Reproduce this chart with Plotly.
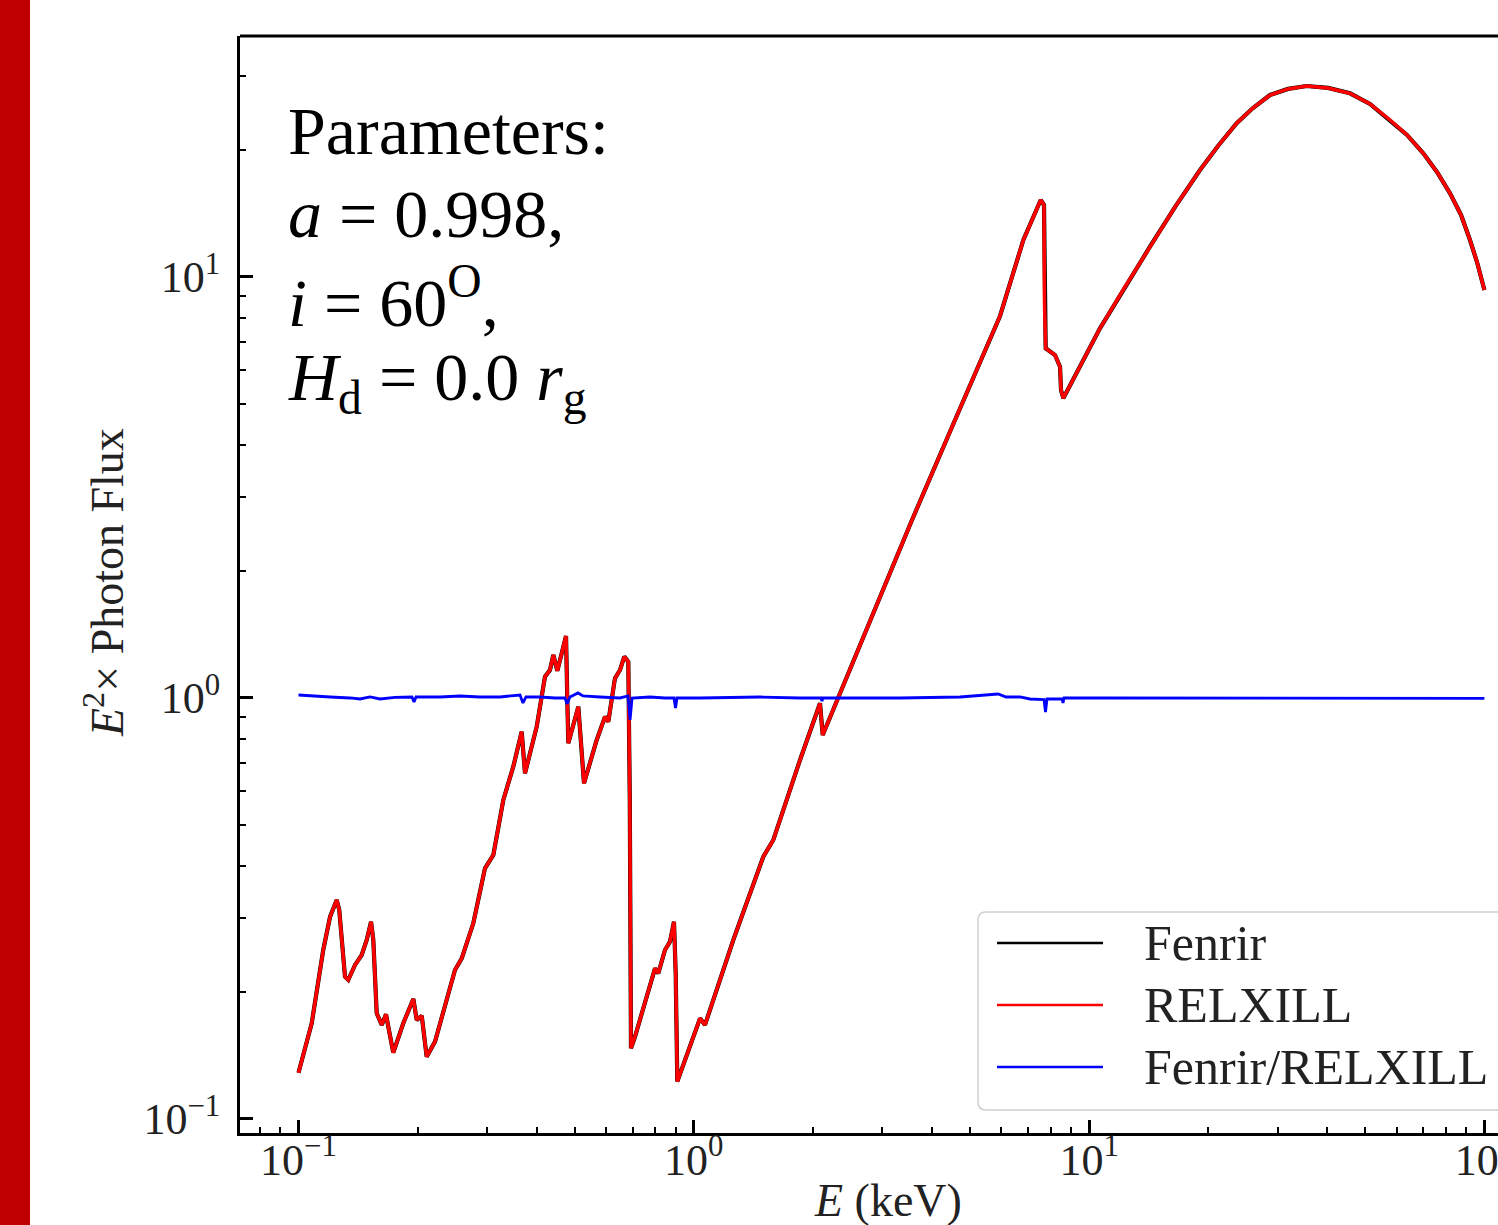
import plotly.graph_objects as go

# ---------------- data ----------------
relxill_E = [0.1000, 0.1080, 0.1155, 0.1202, 0.1249, 0.1268, 0.1311, 0.1336, 0.1390, 0.1445,
             0.1488, 0.1526, 0.1546, 0.1577, 0.1624, 0.1665, 0.1687, 0.1737, 0.1841, 0.1952,
             0.1991, 0.2050, 0.2110, 0.2215, 0.2488, 0.2588, 0.2768, 0.2963, 0.3111, 0.3297,
             0.3494, 0.3669, 0.3741, 0.4005, 0.4203, 0.4327, 0.4412, 0.4516, 0.4633, 0.4751,
             0.4786, 0.4814, 0.5103, 0.5275, 0.5680, 0.5962, 0.6077, 0.6318, 0.6506, 0.6671,
             0.6828, 0.6888, 0.6936, 0.7098, 0.7978, 0.8130, 0.8455, 0.8705, 0.8910, 0.8999,
             0.9084, 1.0368, 1.0674, 1.2586, 1.4991, 1.5889, 1.8565, 2.0858, 2.1190, 2.3440,
             2.7911, 3.5645, 4.5795, 5.9529, 6.8186, 7.5436, 7.6893, 7.7123, 7.7658, 8.1983,
             8.4418, 8.4906, 8.6048, 10.655, 12.32, 14.256, 16.49, 19.081, 21.19, 23.623,
             25.97, 28.689, 31.86, 35.515, 40.22, 45.709, 51.35, 57.70, 63.71, 70.05,
             75.86, 81.85, 87.27, 91.95, 95.78, 100.0]
relxill_flux = [0.1288, 0.1688, 0.2520, 0.3023, 0.3313, 0.3136, 0.2178, 0.2139, 0.2322, 0.2452,
                0.2662, 0.2941, 0.2662, 0.1783, 0.1673, 0.1773, 0.1657, 0.1437, 0.1688, 0.1928,
                0.1718, 0.1759, 0.1406, 0.1527, 0.2259, 0.2408, 0.2916, 0.3939, 0.4238, 0.5726,
                0.6868, 0.8318, 0.6626, 0.8547, 1.1234, 1.1654, 1.2652, 1.1609, 1.2770, 1.4037,
                0.9891, 0.7808, 0.9535, 0.6272, 0.7947, 0.9029, 0.8783, 1.1137, 1.1654, 1.2536,
                1.2196, 0.5726, 0.1472, 0.1568, 0.2280, 0.2218, 0.2520, 0.2637, 0.2941, 0.2218,
                0.1227, 0.1734, 0.1673, 0.2662, 0.4198, 0.4600, 0.7124, 0.9714, 0.8168, 1.0261,
                1.5318, 2.6474, 4.5739, 8.0798, 12.242, 15.236, 14.825, 8.6774, 6.7700, 6.5267,
                6.1223, 5.3897, 5.1504, 7.5527, 9.468, 11.803, 14.66, 17.955, 20.47, 23.181,
                25.20, 27.055, 27.97, 28.423, 28.12, 27.307, 25.76, 23.600, 21.75, 19.670,
                17.76, 15.804, 14.04, 12.242, 10.85, 9.314]

# Fenrir lies on top of RELXILL everywhere at this scale
fenrir_E = relxill_E
fenrir_flux = relxill_flux

ratio_E = [0.1000, 0.1069, 0.1202, 0.1350, 0.1431, 0.1517, 0.1608, 0.1754, 0.1937, 0.1960,
           0.1983, 0.2280, 0.2562, 0.2877, 0.3232, 0.3633, 0.3697, 0.3762, 0.4082, 0.4456,
           0.4722, 0.4777, 0.4861, 0.5094, 0.5245, 0.5790, 0.6506, 0.6818, 0.6898, 0.6980,
           0.7745, 0.8455, 0.8910, 0.8989, 0.9068, 1.0368, 1.4707, 1.8565, 2.0977, 2.1100,
           2.1226, 3.3236, 4.7148, 5.8848, 6.1652, 6.6865, 7.0872, 7.6893, 7.7568, 7.8250,
           8.5418, 8.5911, 8.6407, 10.655, 34.167, 100.0]
ratio = [1.0165, 1.011, 1.0055, 1.0, 0.9945, 1.0055, 0.9945, 1.003, 1.0055, 0.9784,
         1.0055, 1.0055, 1.011, 1.0055, 1.0055, 1.0165, 0.973, 1.0055, 1.0055, 1.0,
         1.0, 0.968, 1.0055, 1.028, 1.011, 1.0055, 1.0, 1.011, 0.8867, 1.0,
         1.0055, 1.0, 1.0, 0.9468, 1.0, 1.0, 1.0055, 1.0, 1.0, 0.9837,
         1.0, 1.0, 1.0055, 1.022, 1.0055, 1.0055, 0.9945, 0.9918, 0.9263, 0.9945,
         0.9945, 0.973, 1.0, 1.0, 1.0, 0.9973]

series_names = ["Fenrir", "RELXILL", "Fenrir/RELXILL"]
series_colors = ["#000000", "#ff0000", "#0000ff"]

major_vals = [0.1, 1, 10, 100]
major_text = ["10<sup>\u22121</sup>", "10<sup>0</sup>", "10<sup>1</sup>", "10<sup>2</sup>"]
y_major_vals = [0.1, 1, 10]
y_major_text = ["10<sup>\u22121</sup>", "10<sup>0</sup>", "10<sup>1</sup>"]

param_lines = ["Parameters:",
               "<i>a</i> = 0.998,",
               "<i>i</i> = 60<sup>O</sup>,",
               "<i>H</i><sub>d</sub> = 0.0 <i>r</i><sub>g</sub>"]

# ---------------- figure ----------------
W, H = 1498, 1225
L, T, B = 240, 36, 92
PW, PH = W - L, H - T - B


def px(x):
    return (x - L) / PW


def py(y):
    return (H - B - y) / PH


FONT = "Liberation Serif"

fig = go.Figure()
fig.add_trace(go.Scatter(x=fenrir_E, y=fenrir_flux, mode="lines", name=series_names[0],
                         line=dict(color=series_colors[0], width=4.2), showlegend=False))
fig.add_trace(go.Scatter(x=relxill_E, y=relxill_flux, mode="lines", name=series_names[1],
                         line=dict(color=series_colors[1], width=3.5), showlegend=False))
fig.add_trace(go.Scatter(x=ratio_E, y=ratio, mode="lines", name=series_names[2],
                         line=dict(color=series_colors[2], width=2.8), showlegend=False))

x_minor = [k * 10 ** d for d in (-2, -1, 0, 1) for k in range(2, 10)]
y_minor = [k * 10 ** d for d in (-2, -1, 0, 1) for k in range(2, 10)]

fig.update_xaxes(type="log", range=[-1.148, 2.0344], showline=True, linecolor="black",
                 linewidth=3, mirror=False, ticks="inside", ticklen=13, tickwidth=2.5,
                 tickcolor="black", tickmode="array", tickvals=major_vals, ticktext=major_text,
                 tickfont=dict(family=FONT, size=44, color="#222"), showgrid=False,
                 zeroline=False, automargin=False, ticklabelstandoff=-14,
                 ticklabeloverflow="allow",
                 minor=dict(tickmode="array", tickvals=x_minor, ticks="inside", ticklen=6,
                            tickwidth=1.5, tickcolor="black", showgrid=False))
fig.update_yaxes(type="log", range=[-1.0333, 1.5724], showline=True, linecolor="black",
                 linewidth=3, mirror=False, ticks="inside", ticklen=13, tickwidth=2.5,
                 tickcolor="black", tickmode="array", tickvals=y_major_vals, ticktext=y_major_text,
                 tickfont=dict(family=FONT, size=44, color="#222"), showgrid=False,
                 zeroline=False, automargin=False, ticklabelstandoff=8,
                 ticklabeloverflow="allow",
                 minor=dict(tickmode="array", tickvals=y_minor, ticks="inside", ticklen=6,
                            tickwidth=1.5, tickcolor="black", showgrid=False))

shapes = []
# red side bar
shapes.append(dict(type="rect", xref="paper", yref="paper", x0=px(0), x1=px(30),
                   y0=py(H), y1=py(0), fillcolor="#c00000", line=dict(width=0)))
# top frame line
shapes.append(dict(type="line", xref="paper", yref="paper", x0=0, x1=1.01, y0=1, y1=1,
                   line=dict(color="black", width=3)))

# legend box (rounded corners)
lx0, lx1, ly0, ly1 = px(978), px(1520), py(1110), py(912)
rx, ry = 8 / PW, 8 / PH
path = (f"M{lx0+rx},{ly1} L{lx1},{ly1} L{lx1},{ly0} L{lx0+rx},{ly0} "
        f"Q{lx0},{ly0} {lx0},{ly0+ry} L{lx0},{ly1-ry} Q{lx0},{ly1} {lx0+rx},{ly1} Z")
shapes.append(dict(type="path", xref="paper", yref="paper", path=path,
                   fillcolor="rgba(255,255,255,0.85)", line=dict(color="#d0d0d0", width=1.5)))

leg_y = [943, 1005, 1067]
annotations = []
for name, col, yy in zip(series_names, series_colors, leg_y):
    shapes.append(dict(type="line", xref="paper", yref="paper", x0=px(997), x1=px(1103),
                       y0=py(yy), y1=py(yy), line=dict(color=col, width=2.5)))
    annotations.append(dict(xref="paper", yref="paper", x=px(1142), y=py(yy), text=name,
                            showarrow=False, xanchor="left", yanchor="middle",
                            font=dict(family=FONT, size=50, color="#222")))

# parameter text
param_y = [131, 214, 298, 381]
for txt, yy in zip(param_lines, param_y):
    annotations.append(dict(xref="paper", yref="paper", x=px(286), y=py(yy), text=txt,
                            showarrow=False, xanchor="left", yanchor="middle",
                            font=dict(family=FONT, size=68, color="black")))

# axis titles
annotations.append(dict(xref="paper", yref="paper", x=px(888), y=py(1200),
                        text="<i>E</i> (keV)", showarrow=False, xanchor="center",
                        yanchor="middle", font=dict(family=FONT, size=46, color="#222")))
annotations.append(dict(xref="paper", yref="paper", x=px(104), y=py(583),
                        text="<i>E</i><sup>2</sup>\u00d7 Photon Flux", showarrow=False,
                        textangle=-90, xanchor="center", yanchor="middle",
                        font=dict(family=FONT, size=46, color="#222")))

fig.update_layout(width=W, height=H, margin=dict(l=L, r=0, t=T, b=B, autoexpand=False),
                  paper_bgcolor="white", plot_bgcolor="white", shapes=shapes,
                  annotations=annotations, showlegend=False)

fig.write_html("out.html",
               config={"displayModeBar": False},
               post_script="document.body.style.margin='0';"
                           "document.body.style.overflow='hidden';")
